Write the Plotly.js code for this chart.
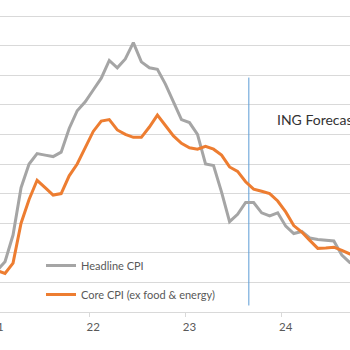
<!DOCTYPE html>
<html>
<head>
<meta charset="utf-8">
<script src="https://cdn.plot.ly/plotly-3.0.1.min.js"></script>
<style>
  html, body { margin: 0; padding: 0; width: 350px; height: 350px; overflow: hidden; background: #fff; }
  #chart { position: absolute; left: -60px; top: -40px; width: 500px; height: 402px; }
</style>
</head>
<body>
<div id="chart"></div>
<script>
// Monthly data, starting January 2021 (index 0)
const startYear = 2021;
const headlineCPI = [
  1.4, 1.7, 2.6, 4.2, 5.0, 5.35, 5.3, 5.25, 5.4, 6.2, 6.8, 7.1,
  7.5, 7.9, 8.5, 8.25, 8.55, 9.1, 8.45, 8.25, 8.2, 7.7, 7.1, 6.5,
  6.4, 6.0, 5.0, 4.95, 4.05, 3.05, 3.3, 3.7, 3.7, 3.35, 3.25, 3.35,
  2.9, 2.65, 2.72, 2.5, 2.45, 2.42, 2.4, 1.92, 1.67, 1.6
];
const coreCPI = [
  1.4, 1.3, 1.65, 3.0, 3.8, 4.45, 4.2, 3.95, 4.0, 4.6, 5.0, 5.55,
  6.1, 6.45, 6.5, 6.15, 6.0, 5.9, 5.9, 6.25, 6.65, 6.3, 5.95, 5.7,
  5.55, 5.5, 5.6, 5.5, 5.3, 4.9, 4.75, 4.4, 4.15, 4.08, 4.0, 3.75,
  3.38, 2.92, 2.7, 2.42, 2.15, 2.16, 2.19, 2.08, 1.96, 1.9
];
const monthIndex = headlineCPI.map((_, i) => i);

// Year tick labels (placed at January of each year) and tick marks between Dec and Jan
const yearLabels = ['21', '22', '23', '24'];
const yearTickPos = yearLabels.map((_, i) => i * 12 - 0.5);

// Forecast divider (between Aug and Sep 2023)
const forecastX = [31.4, 31.4];
const forecastY = [0.22, 7.92];
const forecastLabel = 'ING Forecast';

const font = 'Lato, "Open Sans", sans-serif';

const traces = [
  {
    x: forecastX, y: forecastY, mode: 'lines', showlegend: false, hoverinfo: 'skip',
    line: { color: '#5B9BD5', width: 1 }
  },
  {
    x: monthIndex, y: headlineCPI, mode: 'lines', name: 'Headline CPI', legendgroup: 'a',
    line: { color: '#A5A5A5', width: 3 }
  },
  {
    x: monthIndex, y: coreCPI, mode: 'lines', name: 'Core CPI (ex food &amp; energy)', legendgroup: 'b',
    line: { color: '#ED7D31', width: 3 }
  }
];

const layout = {
  width: 500, height: 402,
  margin: { l: 40, r: 20, t: 10, b: 50 },
  paper_bgcolor: '#ffffff', plot_bgcolor: '#ffffff',
  font: { family: font, color: '#595959', size: 11 },
  xaxis: {
    range: [(-20 + 3) / 8.02, (420 + 3) / 8.02],
    tickmode: 'array', tickvals: yearTickPos, ticktext: yearLabels,
    ticklabelshift: 4,
    ticks: 'outside', ticklen: 4, tickcolor: '#D9D9D9', tickwidth: 1,
    showline: true, linecolor: '#D9D9D9', linewidth: 1,
    showgrid: false, zeroline: false,
    tickfont: { family: font, size: 11.5, color: '#595959' }
  },
  yaxis: {
    range: [0, 342 / 29.6], dtick: 1, tick0: 0,
    showgrid: true, gridcolor: '#D9D9D9', gridwidth: 1,
    zeroline: false, showline: false, ticks: '', showticklabels: false
  },
  legend: {
    x: (41 + 20) / 440, xanchor: 'left',
    y: (312 - 251) / 342, yanchor: 'top',
    bgcolor: 'rgba(0,0,0,0)', borderwidth: 0,
    traceorder: 'grouped', tracegroupgap: 10,
    font: { family: font, size: 11, color: '#595959' }
  },
  annotations: [{
    x: 34.7, y: 6.5, xref: 'x', yref: 'y', text: forecastLabel,
    showarrow: false, xanchor: 'left', yanchor: 'middle',
    font: { family: font, size: 14, color: '#333333' }
  }]
};

Plotly.newPlot('chart', traces, layout, { displayModeBar: false, staticPlot: true });
</script>
</body>
</html>
